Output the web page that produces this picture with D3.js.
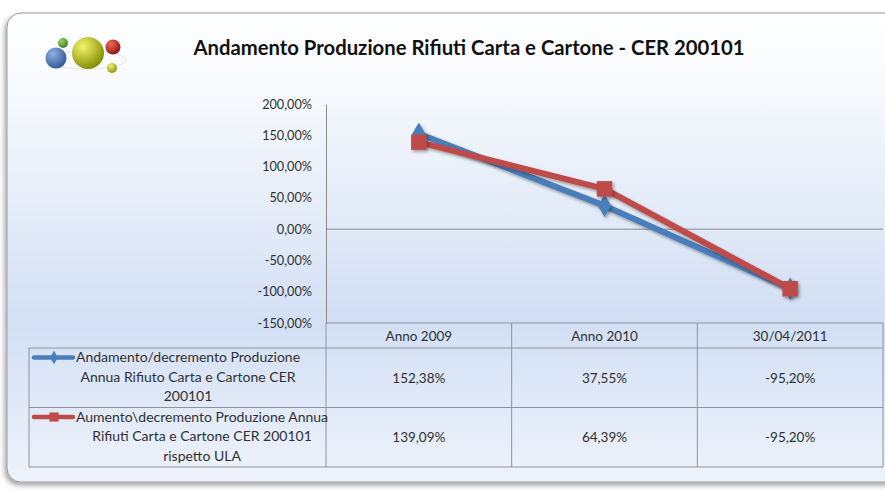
<!DOCTYPE html>
<html lang="it">
<head>
<meta charset="UTF-8">
<title>Andamento Produzione Rifiuti Carta e Cartone</title>
<script src="https://d3js.org/d3.v7.min.js"></script>
<style>
  body { margin: 0; background: #fff; }
  svg text { font-family: Lato, "Open Sans", sans-serif; fill: #303030; }
</style>
</head>
<body>
<div id="chart"></div>
<script>
// data
var categories = ["Anno 2009", "Anno 2010", "30/04/2011"];
var seriesNames = [
  ["Andamento/decremento Produzione", "Annua Rifiuto Carta e Cartone  CER", "200101"],
  ["Aumento\\decremento Produzione Annua", "Rifiuti Carta e Cartone CER 200101", "rispetto ULA"]
];
var blueValues = [152.38, 37.55, -95.20];
var redValues = [139.09, 64.39, -95.20];
var yTicks = [200, 150, 100, 50, 0, -50, -100, -150];
var title = "Andamento Produzione Rifiuti Carta e Cartone - CER 200101";

var W = 885, H = 491;
var plot = {left: 326, right: 883, top: 104, bottom: 323};
var tableLeft = 29, rowH = 59.5, headH = 25;

var it = d3.formatLocale({decimal: ",", thousands: ".", grouping: [3], currency: ["€", ""], minus: "-"});
var pct = function(v) { return it.format(".2f")(v) + "%"; };

var svg = d3.select("#chart").append("svg")
  .attr("width", W).attr("height", H);

var defs = svg.append("defs");
var bg = defs.append("linearGradient").attr("id", "bg").attr("x1", 0).attr("y1", 0).attr("x2", 0).attr("y2", 1);
bg.append("stop").attr("offset", "0%").attr("stop-color", "#ffffff");
bg.append("stop").attr("offset", "20%").attr("stop-color", "#f5f8fc");
bg.append("stop").attr("offset", "66%").attr("stop-color", "#d2dff4");
bg.append("stop").attr("offset", "100%").attr("stop-color", "#eef3fb");

var pg = defs.append("linearGradient").attr("id", "pg").attr("x1", 0).attr("y1", 0).attr("x2", 0).attr("y2", 1);
pg.append("stop").attr("offset", "0%").attr("stop-color", "#f3f7fc");
pg.append("stop").attr("offset", "100%").attr("stop-color", "#cfdcf2");

var sh = defs.append("filter").attr("id", "sh").attr("x", "-30%").attr("y", "-30%").attr("width", "160%").attr("height", "160%");
sh.append("feDropShadow").attr("dx", 1.5).attr("dy", 2).attr("stdDeviation", 1.5)
  .attr("flood-color", "#000").attr("flood-opacity", 0.35);

var bsh = defs.append("filter").attr("id", "bsh").attr("x", "-5%").attr("y", "-5%").attr("width", "110%").attr("height", "110%");
bsh.append("feDropShadow").attr("dx", -2).attr("dy", 3).attr("stdDeviation", 2.5)
  .attr("flood-color", "#000").attr("flood-opacity", 0.35);

// outer frame
svg.append("rect")
  .attr("x", 7).attr("y", 13).attr("width", 900).attr("height", 469)
  .attr("rx", 14)
  .attr("fill", "url(#bg)")
  .attr("stroke", "#9a9a9a").attr("stroke-width", 1)
  .attr("filter", "url(#bsh)");

// logo spheres
function sphere(id, cx, cy, r, light, dark) {
  var g = defs.append("radialGradient").attr("id", id)
    .attr("cx", "35%").attr("cy", "30%").attr("r", "75%");
  g.append("stop").attr("offset", "0%").attr("stop-color", light);
  g.append("stop").attr("offset", "100%").attr("stop-color", dark);
  svg.append("circle").attr("cx", cx).attr("cy", cy).attr("r", r).attr("fill", "url(#" + id + ")");
}
svg.append("ellipse").attr("cx", 86).attr("cy", 60).attr("rx", 40).attr("ry", 9)
  .attr("fill", "none").attr("stroke", "#dfe6ef").attr("stroke-width", 1);
sphere("sb", 56, 58, 10.5, "#8fb0e0", "#2f5597");
sphere("sg", 63, 43, 5, "#9bd36a", "#3e7d1e");
sphere("sy", 88, 53, 16, "#f4f56a", "#7f8a00");
sphere("sr", 113, 47, 7.5, "#ee6b5b", "#8c130c");
sphere("sy2", 112, 68, 5, "#f0f27a", "#8a9400");

// title
svg.append("text")
  .attr("x", 469).attr("y", 55)
  .attr("text-anchor", "middle")
  .style("font-size", "20.3px").style("font-weight", "bold").style("fill", "#111")
  .text(title);

// scales
var x = d3.scaleBand().domain(categories).range([plot.left, plot.right]);
var y = d3.scaleLinear().domain([-150, 200]).range([plot.bottom, plot.top]);

svg.append("rect")
  .attr("x", plot.left).attr("y", plot.top)
  .attr("width", plot.right - plot.left).attr("height", plot.bottom - plot.top)
  .attr("fill", "url(#pg)").attr("opacity", 0.6);

// y axis
var yAxis = svg.append("g")
  .attr("transform", "translate(" + plot.left + ",0)")
  .call(d3.axisLeft(y).tickValues(yTicks).tickFormat(pct).tickSize(0).tickPadding(14));
yAxis.select(".domain").attr("stroke", "#8a8a8a");
yAxis.selectAll("text").style("font-size", "12.7px").style("fill", "#303030")
  .style("font-family", "Lato, 'Open Sans', sans-serif");

// zero line
svg.append("line")
  .attr("x1", plot.left).attr("x2", plot.right)
  .attr("y1", y(0)).attr("y2", y(0))
  .attr("stroke", "#8a8a8a");

// data table
var tbl = svg.append("g").attr("stroke", "#8d949c").attr("stroke-width", 1).attr("fill", "none");
var rowsTop = plot.bottom + headH;
tbl.append("line").attr("x1", plot.left).attr("x2", plot.right).attr("y1", plot.bottom).attr("y2", plot.bottom);
[0, 1, 2].forEach(function(i) {
  var yy = rowsTop + i * rowH;
  tbl.append("line").attr("x1", tableLeft).attr("x2", plot.right).attr("y1", yy).attr("y2", yy);
});
tbl.append("line").attr("x1", tableLeft).attr("x2", tableLeft).attr("y1", rowsTop).attr("y2", rowsTop + 2 * rowH);
categories.forEach(function(c) {
  tbl.append("line").attr("x1", x(c)).attr("x2", x(c)).attr("y1", plot.bottom).attr("y2", rowsTop + 2 * rowH);
});
tbl.append("line").attr("x1", plot.right).attr("x2", plot.right).attr("y1", plot.bottom).attr("y2", rowsTop + 2 * rowH);

svg.selectAll(".cat").data(categories).enter().append("text")
  .attr("x", function(d) { return x(d) + x.bandwidth() / 2; })
  .attr("y", plot.bottom + headH / 2 + 5)
  .attr("text-anchor", "middle").style("font-size", "13.5px")
  .text(function(d) { return d; });

var series = [
  {values: blueValues, color: "#4a7ebb", shape: d3.symbolDiamond, size: 150},
  {values: redValues, color: "#be4b48", shape: d3.symbolSquare, size: 240}
];

series.forEach(function(s, i) {
  var rowY = rowsTop + i * rowH;
  svg.append("g").selectAll("text").data(s.values).enter().append("text")
    .attr("x", function(d, j) { return x(categories[j]) + x.bandwidth() / 2; })
    .attr("y", rowY + rowH / 2 + 5)
    .attr("text-anchor", "middle").style("font-size", "13.5px")
    .text(function(d) { return pct(d); });
  // series name: block starts after the legend key, lines centred in the block
  var names = svg.append("g").selectAll("text").data(seriesNames[i]).enter().append("text")
    .attr("y", function(d, k) { return rowY + 14 + k * 19.5; })
    .attr("text-anchor", "middle").style("font-size", "14px")
    .text(function(d) { return d; });
  var maxW = d3.max(names.nodes(), function(n) { return n.getComputedTextLength(); });
  names.attr("x", 76 + maxW / 2);
  // legend key
  var ky = rowY + 9.5;
  svg.append("line").attr("x1", 34).attr("x2", 73).attr("y1", ky).attr("y2", ky)
    .attr("stroke", s.color).attr("stroke-width", 4.5).attr("stroke-linecap", "round");
  svg.append("path").attr("d", d3.symbol().type(s.shape).size(s.size * 0.35)())
    .attr("transform", "translate(54," + ky + ")").attr("fill", s.color);
});

// lines and markers
var line = d3.line()
  .x(function(d, j) { return x(categories[j]) + x.bandwidth() / 2; })
  .y(function(d) { return y(d); });

series.forEach(function(s) {
  svg.append("path").datum(s.values)
    .attr("d", line).attr("fill", "none")
    .attr("stroke", s.color).attr("stroke-width", 6)
    .attr("stroke-linejoin", "round")
    .attr("filter", "url(#sh)");
});
series.forEach(function(s) {
  svg.append("g").selectAll("path").data(s.values).enter().append("path")
    .attr("d", d3.symbol().type(s.shape).size(s.size)())
    .attr("transform", function(d, j) {
      return "translate(" + (x(categories[j]) + x.bandwidth() / 2) + "," + y(d) + ")";
    })
    .attr("fill", s.color).attr("filter", "url(#sh)");
});
</script>
</body>
</html>
